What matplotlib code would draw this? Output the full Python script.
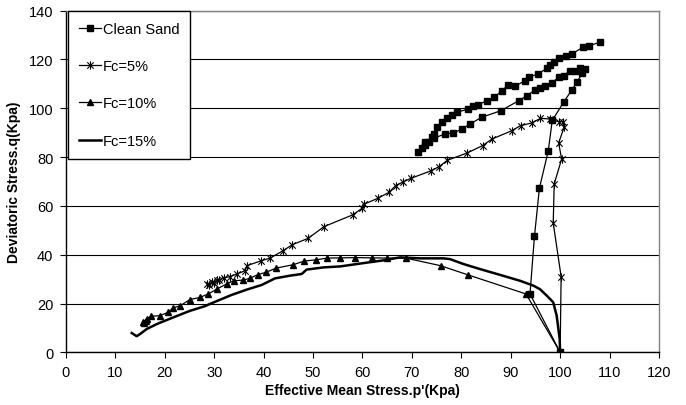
import matplotlib
matplotlib.use("Agg")
import matplotlib.pyplot as plt
from matplotlib.path import Path

plt.rcParams['font.family'] = ['Liberation Sans', 'DejaVu Sans']

# Clean sand (square markers)
clean_p = [100, 93.9, 94.8, 95.8, 97.6, 98.4, 100.7, 102.4, 103.4, 104.5, 105.1,
           104.0, 103.0, 102.0, 100.7, 99.7, 98.3, 97.0, 96.0, 94.9, 93.3, 91.6,
           88.0, 84.1, 81.8, 80.1, 78.4, 76.7, 74.4, 72.7, 71.3, 72.0, 72.7, 73.4,
           74.0, 74.4, 75.0, 76.0, 77.1, 78.1, 79.2, 81.4, 82.3, 83.3, 85.2, 86.7,
           88.2, 89.5, 90.8, 92.9, 93.6, 95.6, 97.3, 98.0, 98.8, 99.7, 101.2,
           102.4, 104.6, 105.9, 108.0]
clean_q = [0, 23.9, 47.5, 67.2, 82.6, 95.0, 102.5, 107.6, 110.7, 114.5, 116.1,
           116.4, 115.4, 115.4, 113.4, 112.7, 110.4, 109.3, 108.2, 107.5, 105.2,
           103.1, 99.0, 96.3, 93.6, 91.5, 89.9, 89.5, 87.7, 86.0, 82.0, 83.6, 85.0,
           86.3, 88.1, 89.5, 92.2, 94.3, 95.9, 97.3, 98.4, 99.7, 100.8, 101.4,
           103.1, 104.5, 107.2, 109.6, 109.0, 111.3, 112.7, 114.1, 116.4, 117.8,
           118.9, 120.5, 121.6, 122.3, 125.0, 125.7, 127.0]

# Fc = 5% (star markers)
fc5_p = [100, 100.2, 98.6, 98.8, 100.3, 99.7, 100.8, 100.5, 99.7, 98.0, 96.0,
         94.3, 92.0, 90.2, 86.2, 84.3, 81.2, 77.2, 75.5, 73.9, 69.8, 68.3, 66.7,
         65.4, 63.1, 60.4, 59.9, 58.0, 52.2, 49.0, 45.8, 43.9, 41.3, 39.5, 36.6,
         36.2, 34.6, 33.2, 32.0, 31.0, 30.5, 30.0, 29.5, 29.0, 28.6]
fc5_q = [0, 31.0, 53.0, 69.0, 79.2, 85.8, 92.2, 94.5, 94.5, 95.6, 95.9, 94.0,
         92.9, 90.8, 87.4, 84.7, 81.7, 78.7, 76.1, 74.4, 71.3, 69.9, 68.3, 65.6,
         63.1, 60.8, 59.0, 56.3, 51.5, 46.7, 44.1, 41.6, 38.6, 37.5, 35.5, 33.4,
         32.1, 31.0, 30.5, 29.5, 29.8, 28.5, 29.0, 27.5, 28.0]

# Fc = 10% (triangle markers)
fc10_p = [100, 93.1, 81.4, 75.8, 68.8, 65.0, 62.0, 58.5, 55.5, 52.8, 50.6, 48.2,
          46.0, 42.5, 40.5, 38.8, 37.2, 35.9, 33.9, 32.5, 30.5, 28.8, 27.1, 25.1,
          23.1, 21.7, 20.7, 19.0, 17.3, 16.3, 15.6, 16.2, 15.8]
fc10_q = [0, 23.9, 31.7, 35.5, 38.6, 38.6, 38.7, 38.8, 38.7, 38.6, 37.9, 37.4,
          35.9, 34.5, 32.8, 31.8, 30.3, 29.6, 29.3, 28.0, 25.9, 23.9, 22.5, 21.6,
          19.1, 18.2, 16.4, 15.0, 14.8, 13.6, 12.3, 13.0, 12.0]

# Fc = 15% (plain line)
fc15_p = [100, 99.9, 99.3, 98.6, 97.3, 95.9, 94.6, 91.9, 87.9, 83.8, 80.4, 77.7,
          76.4, 71.7, 67.6, 64.0, 60.0, 55.5, 52.1, 48.7, 47.7, 45.3, 42.3, 39.6,
          36.6, 33.5, 29.1, 28.1, 25.1, 21.7, 18.4, 16.3, 15.0, 14.3, 13.3]
fc15_q = [0, 5.5, 15.0, 20.5, 23.2, 25.9, 27.3, 29.3, 31.7, 34.1, 36.2, 38.2,
          38.5, 38.5, 38.9, 37.6, 36.5, 35.2, 34.8, 33.9, 32.1, 31.4, 30.3, 27.6,
          25.7, 23.5, 19.8, 18.9, 17.0, 14.3, 11.6, 9.5, 7.5, 6.6, 7.9]

x_ticks = list(range(0, 121, 10))
y_ticks = list(range(0, 141, 20))

# excel style star: an x with a vertical bar
star = Path([(-1, -1), (1, 1), (-1, 1), (1, -1), (0, -1.3), (0, 1.3)],
            [Path.MOVETO, Path.LINETO, Path.MOVETO, Path.LINETO, Path.MOVETO, Path.LINETO])

fig = plt.figure(figsize=(6.86, 4.06), dpi=100)
ax = fig.add_axes([0.0962, 0.1298, 0.8644, 0.8414])

ax.plot(clean_p, clean_q, '-', color='black', lw=0.9, marker='s', ms=4.3,
        label='Clean Sand')
ax.plot(fc5_p, fc5_q, '-', color='black', lw=0.9, marker=star, ms=6,
        mew=0.8, mfc='none', label='Fc=5%')
ax.plot(fc10_p, fc10_q, '-', color='black', lw=0.9, marker='^', ms=5,
        label='Fc=10%')
ax.plot(fc15_p, fc15_q, '-', color='black', lw=1.8, label='Fc=15%')

ax.set_xlim(0, 120)
ax.set_ylim(0, 140)
ax.set_xticks(x_ticks)
ax.set_yticks(y_ticks)
ax.tick_params(labelsize=10.5, length=4, width=0.8, direction='out', pad=5)
ax.yaxis.grid(True, color='black', lw=0.8)
ax.set_axisbelow(True)
for s in ['top', 'right']:
    ax.spines[s].set_color('#808080')
    ax.spines[s].set_linewidth(1.0)
for s in ['left', 'bottom']:
    ax.spines[s].set_linewidth(1.0)

ax.set_xlabel("Effective Mean Stress.p'(Kpa)", fontsize=10, fontweight='bold', labelpad=3)
ax.set_ylabel("Deviatoric Stress.q(Kpa)", fontsize=10, fontweight='bold', labelpad=6)

leg = ax.legend(loc='upper left', bbox_to_anchor=(0.004, 1.0), borderaxespad=0,
                fontsize=10.5, labelspacing=1.6, handlelength=1.5,
                handletextpad=0.1, borderpad=0.75, fancybox=False,
                framealpha=1, edgecolor='black')
leg.get_frame().set_linewidth(1.0)

fig.savefig('out.png', dpi=100)
